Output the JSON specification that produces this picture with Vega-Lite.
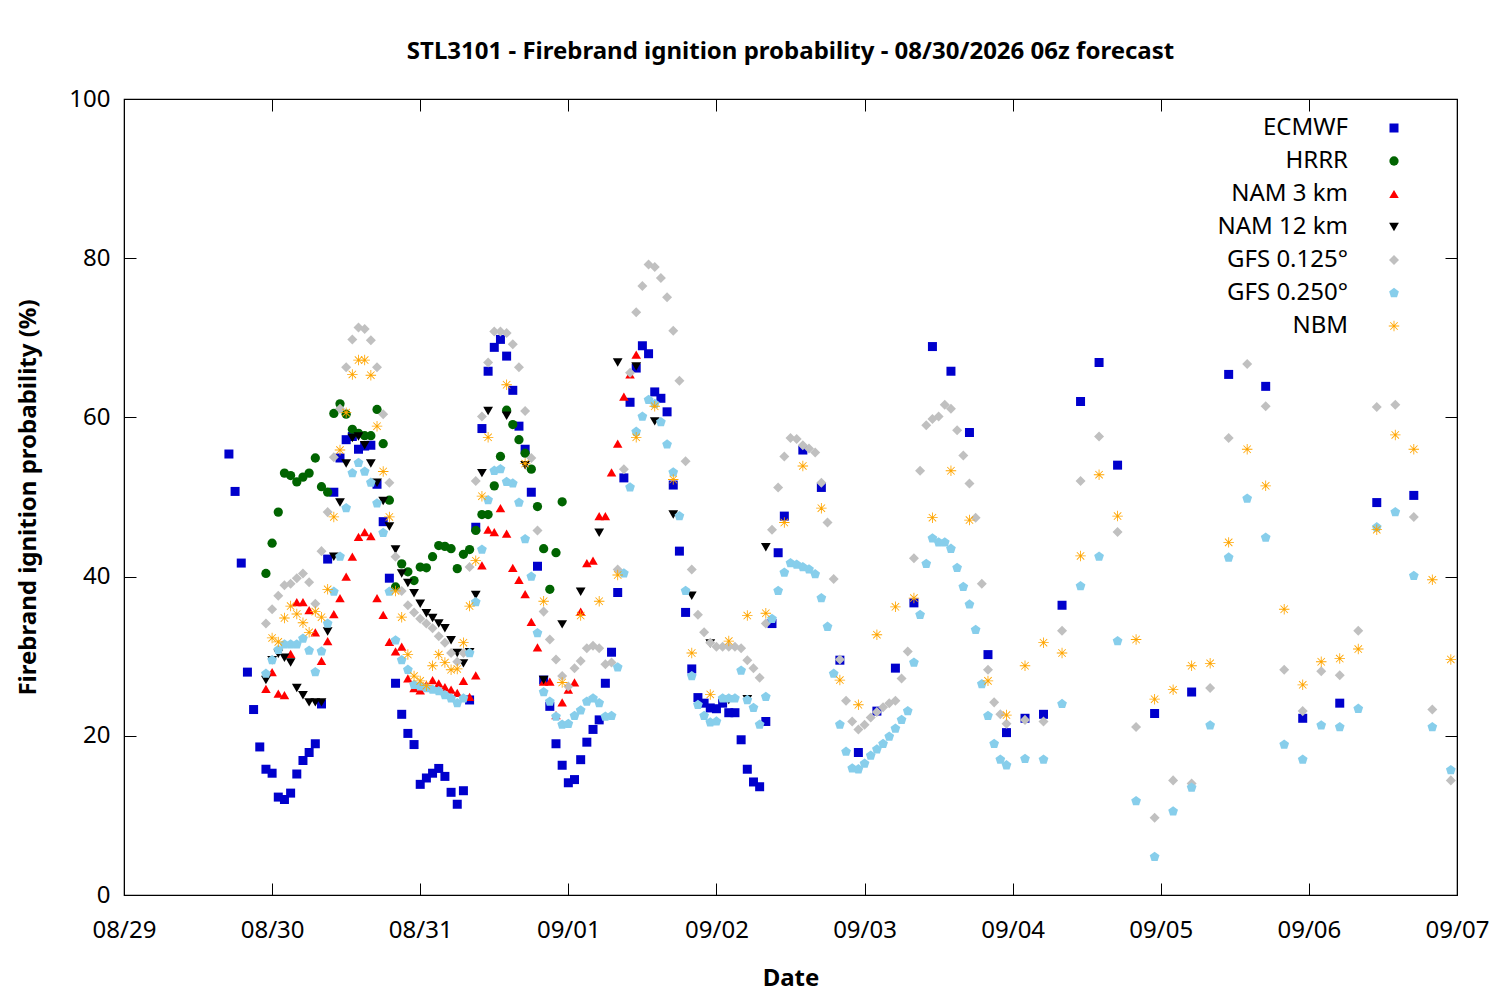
{
  "$schema": "https://vega.github.io/schema/vega-lite/v6.json",
  "width": 1333,
  "height": 796,
  "autosize": {"type": "none"},
  "padding": {"left": 124, "top": 99, "right": 43, "bottom": 105},
  "background": "white",
  "config": {
    "font": "Noto Sans",
    "view": {"stroke": "black", "strokeWidth": 1.2}
  },
  "title": {
    "text": "STL3101 - Firebrand ignition probability - 08/30/2026 06z forecast",
    "fontSize": 24,
    "fontWeight": "bold",
    "color": "black",
    "anchor": "middle",
    "offset": 23
  },
  "data": {
    "values": [
      {"model": "ECMWF", "hour": 17, "prob": 55.4}, {"model": "ECMWF", "hour": 18, "prob": 50.7}, {"model": "ECMWF", "hour": 19, "prob": 41.7},
      {"model": "ECMWF", "hour": 20, "prob": 28.0}, {"model": "ECMWF", "hour": 21, "prob": 23.3}, {"model": "ECMWF", "hour": 22, "prob": 18.6},
      {"model": "ECMWF", "hour": 23, "prob": 15.8}, {"model": "ECMWF", "hour": 24, "prob": 15.3}, {"model": "ECMWF", "hour": 25, "prob": 12.3},
      {"model": "ECMWF", "hour": 26, "prob": 12.0}, {"model": "ECMWF", "hour": 27, "prob": 12.8}, {"model": "ECMWF", "hour": 28, "prob": 15.2},
      {"model": "ECMWF", "hour": 29, "prob": 16.9}, {"model": "ECMWF", "hour": 30, "prob": 17.9}, {"model": "ECMWF", "hour": 31, "prob": 19.0},
      {"model": "ECMWF", "hour": 32, "prob": 24.0}, {"model": "ECMWF", "hour": 33, "prob": 42.2}, {"model": "ECMWF", "hour": 34, "prob": 50.6},
      {"model": "ECMWF", "hour": 35, "prob": 54.9}, {"model": "ECMWF", "hour": 36, "prob": 57.2}, {"model": "ECMWF", "hour": 37, "prob": 57.6},
      {"model": "ECMWF", "hour": 38, "prob": 56.0}, {"model": "ECMWF", "hour": 39, "prob": 56.4}, {"model": "ECMWF", "hour": 40, "prob": 56.5},
      {"model": "ECMWF", "hour": 41, "prob": 51.6}, {"model": "ECMWF", "hour": 42, "prob": 46.9}, {"model": "ECMWF", "hour": 43, "prob": 39.8},
      {"model": "ECMWF", "hour": 44, "prob": 26.6}, {"model": "ECMWF", "hour": 45, "prob": 22.7}, {"model": "ECMWF", "hour": 46, "prob": 20.3},
      {"model": "ECMWF", "hour": 47, "prob": 18.9}, {"model": "ECMWF", "hour": 48, "prob": 13.9}, {"model": "ECMWF", "hour": 49, "prob": 14.7},
      {"model": "ECMWF", "hour": 50, "prob": 15.3}, {"model": "ECMWF", "hour": 51, "prob": 15.9}, {"model": "ECMWF", "hour": 52, "prob": 14.9},
      {"model": "ECMWF", "hour": 53, "prob": 12.9}, {"model": "ECMWF", "hour": 54, "prob": 11.4}, {"model": "ECMWF", "hour": 55, "prob": 13.1},
      {"model": "ECMWF", "hour": 56, "prob": 24.5}, {"model": "ECMWF", "hour": 57, "prob": 46.2}, {"model": "ECMWF", "hour": 58, "prob": 58.6},
      {"model": "ECMWF", "hour": 59, "prob": 65.8}, {"model": "ECMWF", "hour": 60, "prob": 68.8}, {"model": "ECMWF", "hour": 61, "prob": 69.8},
      {"model": "ECMWF", "hour": 62, "prob": 67.7}, {"model": "ECMWF", "hour": 63, "prob": 63.4}, {"model": "ECMWF", "hour": 64, "prob": 58.9},
      {"model": "ECMWF", "hour": 65, "prob": 56.0}, {"model": "ECMWF", "hour": 66, "prob": 50.6}, {"model": "ECMWF", "hour": 67, "prob": 41.3},
      {"model": "ECMWF", "hour": 68, "prob": 27.0}, {"model": "ECMWF", "hour": 69, "prob": 23.7}, {"model": "ECMWF", "hour": 70, "prob": 19.0},
      {"model": "ECMWF", "hour": 71, "prob": 16.3}, {"model": "ECMWF", "hour": 72, "prob": 14.1}, {"model": "ECMWF", "hour": 73, "prob": 14.5},
      {"model": "ECMWF", "hour": 74, "prob": 17.0}, {"model": "ECMWF", "hour": 75, "prob": 19.2}, {"model": "ECMWF", "hour": 76, "prob": 20.8},
      {"model": "ECMWF", "hour": 77, "prob": 22.0}, {"model": "ECMWF", "hour": 78, "prob": 26.6}, {"model": "ECMWF", "hour": 79, "prob": 30.5},
      {"model": "ECMWF", "hour": 80, "prob": 38.0}, {"model": "ECMWF", "hour": 81, "prob": 52.4}, {"model": "ECMWF", "hour": 82, "prob": 61.9},
      {"model": "ECMWF", "hour": 83, "prob": 66.2}, {"model": "ECMWF", "hour": 84, "prob": 69.0}, {"model": "ECMWF", "hour": 85, "prob": 68.0},
      {"model": "ECMWF", "hour": 86, "prob": 63.2}, {"model": "ECMWF", "hour": 87, "prob": 62.4}, {"model": "ECMWF", "hour": 88, "prob": 60.7},
      {"model": "ECMWF", "hour": 89, "prob": 51.5}, {"model": "ECMWF", "hour": 90, "prob": 43.2}, {"model": "ECMWF", "hour": 91, "prob": 35.5},
      {"model": "ECMWF", "hour": 92, "prob": 28.4}, {"model": "ECMWF", "hour": 93, "prob": 24.8}, {"model": "ECMWF", "hour": 94, "prob": 24.1},
      {"model": "ECMWF", "hour": 95, "prob": 23.5}, {"model": "ECMWF", "hour": 96, "prob": 23.4}, {"model": "ECMWF", "hour": 97, "prob": 24.1},
      {"model": "ECMWF", "hour": 98, "prob": 22.9}, {"model": "ECMWF", "hour": 99, "prob": 22.9}, {"model": "ECMWF", "hour": 100, "prob": 19.5},
      {"model": "ECMWF", "hour": 101, "prob": 15.8}, {"model": "ECMWF", "hour": 102, "prob": 14.2}, {"model": "ECMWF", "hour": 103, "prob": 13.6},
      {"model": "ECMWF", "hour": 104, "prob": 21.8}, {"model": "ECMWF", "hour": 105, "prob": 34.1}, {"model": "ECMWF", "hour": 106, "prob": 43.0},
      {"model": "ECMWF", "hour": 107, "prob": 47.6}, {"model": "ECMWF", "hour": 110, "prob": 55.9}, {"model": "ECMWF", "hour": 113, "prob": 51.2},
      {"model": "ECMWF", "hour": 116, "prob": 29.5}, {"model": "ECMWF", "hour": 119, "prob": 17.9}, {"model": "ECMWF", "hour": 122, "prob": 23.1},
      {"model": "ECMWF", "hour": 125, "prob": 28.5}, {"model": "ECMWF", "hour": 128, "prob": 36.7}, {"model": "ECMWF", "hour": 131, "prob": 68.9},
      {"model": "ECMWF", "hour": 134, "prob": 65.8}, {"model": "ECMWF", "hour": 137, "prob": 58.1}, {"model": "ECMWF", "hour": 140, "prob": 30.2},
      {"model": "ECMWF", "hour": 143, "prob": 20.4}, {"model": "ECMWF", "hour": 146, "prob": 22.2}, {"model": "ECMWF", "hour": 149, "prob": 22.7},
      {"model": "ECMWF", "hour": 152, "prob": 36.4}, {"model": "ECMWF", "hour": 155, "prob": 62.0}, {"model": "ECMWF", "hour": 158, "prob": 66.9},
      {"model": "ECMWF", "hour": 161, "prob": 54.0}, {"model": "ECMWF", "hour": 167, "prob": 22.8}, {"model": "ECMWF", "hour": 173, "prob": 25.5},
      {"model": "ECMWF", "hour": 179, "prob": 65.4}, {"model": "ECMWF", "hour": 185, "prob": 63.9}, {"model": "ECMWF", "hour": 191, "prob": 22.2},
      {"model": "ECMWF", "hour": 197, "prob": 24.1}, {"model": "ECMWF", "hour": 203, "prob": 49.3}, {"model": "ECMWF", "hour": 209, "prob": 50.2},

      {"model": "HRRR", "hour": 23, "prob": 40.4}, {"model": "HRRR", "hour": 24, "prob": 44.2}, {"model": "HRRR", "hour": 25, "prob": 48.1},
      {"model": "HRRR", "hour": 26, "prob": 53.0}, {"model": "HRRR", "hour": 27, "prob": 52.7}, {"model": "HRRR", "hour": 28, "prob": 51.9},
      {"model": "HRRR", "hour": 29, "prob": 52.5}, {"model": "HRRR", "hour": 30, "prob": 53.0}, {"model": "HRRR", "hour": 31, "prob": 54.9},
      {"model": "HRRR", "hour": 32, "prob": 51.3}, {"model": "HRRR", "hour": 33, "prob": 50.6}, {"model": "HRRR", "hour": 34, "prob": 60.5},
      {"model": "HRRR", "hour": 35, "prob": 61.7}, {"model": "HRRR", "hour": 36, "prob": 60.4}, {"model": "HRRR", "hour": 37, "prob": 58.5},
      {"model": "HRRR", "hour": 38, "prob": 58.0}, {"model": "HRRR", "hour": 39, "prob": 57.7}, {"model": "HRRR", "hour": 40, "prob": 57.7},
      {"model": "HRRR", "hour": 41, "prob": 61.0}, {"model": "HRRR", "hour": 42, "prob": 56.7}, {"model": "HRRR", "hour": 43, "prob": 49.6},
      {"model": "HRRR", "hour": 44, "prob": 38.7}, {"model": "HRRR", "hour": 45, "prob": 41.6}, {"model": "HRRR", "hour": 46, "prob": 40.6},
      {"model": "HRRR", "hour": 47, "prob": 39.5}, {"model": "HRRR", "hour": 48, "prob": 41.2}, {"model": "HRRR", "hour": 49, "prob": 41.1},
      {"model": "HRRR", "hour": 50, "prob": 42.5}, {"model": "HRRR", "hour": 51, "prob": 43.9}, {"model": "HRRR", "hour": 52, "prob": 43.8},
      {"model": "HRRR", "hour": 53, "prob": 43.5}, {"model": "HRRR", "hour": 54, "prob": 41.0}, {"model": "HRRR", "hour": 55, "prob": 42.8},
      {"model": "HRRR", "hour": 56, "prob": 43.4}, {"model": "HRRR", "hour": 57, "prob": 45.8}, {"model": "HRRR", "hour": 58, "prob": 47.8},
      {"model": "HRRR", "hour": 59, "prob": 47.8}, {"model": "HRRR", "hour": 60, "prob": 51.4}, {"model": "HRRR", "hour": 61, "prob": 55.1},
      {"model": "HRRR", "hour": 62, "prob": 60.9}, {"model": "HRRR", "hour": 63, "prob": 59.1}, {"model": "HRRR", "hour": 64, "prob": 57.2},
      {"model": "HRRR", "hour": 65, "prob": 55.5}, {"model": "HRRR", "hour": 66, "prob": 53.5}, {"model": "HRRR", "hour": 67, "prob": 48.8},
      {"model": "HRRR", "hour": 68, "prob": 43.5}, {"model": "HRRR", "hour": 69, "prob": 38.4}, {"model": "HRRR", "hour": 70, "prob": 43.0},
      {"model": "HRRR", "hour": 71, "prob": 49.4},

      {"model": "NAM 3 km", "hour": 23, "prob": 25.9}, {"model": "NAM 3 km", "hour": 24, "prob": 28.0}, {"model": "NAM 3 km", "hour": 25, "prob": 25.3},
      {"model": "NAM 3 km", "hour": 26, "prob": 25.1}, {"model": "NAM 3 km", "hour": 27, "prob": 30.3}, {"model": "NAM 3 km", "hour": 28, "prob": 36.8},
      {"model": "NAM 3 km", "hour": 29, "prob": 36.8}, {"model": "NAM 3 km", "hour": 30, "prob": 35.8}, {"model": "NAM 3 km", "hour": 31, "prob": 33.0},
      {"model": "NAM 3 km", "hour": 32, "prob": 29.4}, {"model": "NAM 3 km", "hour": 33, "prob": 31.9}, {"model": "NAM 3 km", "hour": 34, "prob": 35.3},
      {"model": "NAM 3 km", "hour": 35, "prob": 37.3}, {"model": "NAM 3 km", "hour": 36, "prob": 40.0}, {"model": "NAM 3 km", "hour": 37, "prob": 42.5},
      {"model": "NAM 3 km", "hour": 38, "prob": 45.0}, {"model": "NAM 3 km", "hour": 39, "prob": 45.6}, {"model": "NAM 3 km", "hour": 40, "prob": 45.1},
      {"model": "NAM 3 km", "hour": 41, "prob": 37.3}, {"model": "NAM 3 km", "hour": 42, "prob": 35.2}, {"model": "NAM 3 km", "hour": 43, "prob": 31.8},
      {"model": "NAM 3 km", "hour": 44, "prob": 30.6}, {"model": "NAM 3 km", "hour": 45, "prob": 31.2}, {"model": "NAM 3 km", "hour": 46, "prob": 27.2},
      {"model": "NAM 3 km", "hour": 47, "prob": 26.0}, {"model": "NAM 3 km", "hour": 48, "prob": 25.7}, {"model": "NAM 3 km", "hour": 49, "prob": 26.4},
      {"model": "NAM 3 km", "hour": 50, "prob": 27.0}, {"model": "NAM 3 km", "hour": 51, "prob": 26.6}, {"model": "NAM 3 km", "hour": 52, "prob": 26.1},
      {"model": "NAM 3 km", "hour": 53, "prob": 25.8}, {"model": "NAM 3 km", "hour": 54, "prob": 25.4}, {"model": "NAM 3 km", "hour": 55, "prob": 26.9},
      {"model": "NAM 3 km", "hour": 56, "prob": 24.9}, {"model": "NAM 3 km", "hour": 57, "prob": 27.6}, {"model": "NAM 3 km", "hour": 58, "prob": 41.4},
      {"model": "NAM 3 km", "hour": 59, "prob": 45.9}, {"model": "NAM 3 km", "hour": 60, "prob": 45.6}, {"model": "NAM 3 km", "hour": 61, "prob": 48.6},
      {"model": "NAM 3 km", "hour": 62, "prob": 45.4}, {"model": "NAM 3 km", "hour": 63, "prob": 41.1}, {"model": "NAM 3 km", "hour": 64, "prob": 39.6},
      {"model": "NAM 3 km", "hour": 65, "prob": 37.8}, {"model": "NAM 3 km", "hour": 66, "prob": 34.3}, {"model": "NAM 3 km", "hour": 67, "prob": 31.1},
      {"model": "NAM 3 km", "hour": 68, "prob": 26.8}, {"model": "NAM 3 km", "hour": 69, "prob": 26.8}, {"model": "NAM 3 km", "hour": 70, "prob": 22.6},
      {"model": "NAM 3 km", "hour": 71, "prob": 24.2}, {"model": "NAM 3 km", "hour": 72, "prob": 25.8}, {"model": "NAM 3 km", "hour": 73, "prob": 26.7},
      {"model": "NAM 3 km", "hour": 74, "prob": 35.6}, {"model": "NAM 3 km", "hour": 75, "prob": 41.7}, {"model": "NAM 3 km", "hour": 76, "prob": 42.0},
      {"model": "NAM 3 km", "hour": 77, "prob": 47.6}, {"model": "NAM 3 km", "hour": 78, "prob": 47.6}, {"model": "NAM 3 km", "hour": 79, "prob": 53.1},
      {"model": "NAM 3 km", "hour": 80, "prob": 56.7}, {"model": "NAM 3 km", "hour": 81, "prob": 62.6}, {"model": "NAM 3 km", "hour": 82, "prob": 65.4},
      {"model": "NAM 3 km", "hour": 83, "prob": 67.9},

      {"model": "NAM 12 km", "hour": 23, "prob": 27.0}, {"model": "NAM 12 km", "hour": 24, "prob": 29.5}, {"model": "NAM 12 km", "hour": 25, "prob": 30.3},
      {"model": "NAM 12 km", "hour": 26, "prob": 29.8}, {"model": "NAM 12 km", "hour": 27, "prob": 29.2}, {"model": "NAM 12 km", "hour": 28, "prob": 26.0},
      {"model": "NAM 12 km", "hour": 29, "prob": 25.1}, {"model": "NAM 12 km", "hour": 30, "prob": 24.2}, {"model": "NAM 12 km", "hour": 31, "prob": 24.2},
      {"model": "NAM 12 km", "hour": 32, "prob": 24.2}, {"model": "NAM 12 km", "hour": 33, "prob": 33.1}, {"model": "NAM 12 km", "hour": 34, "prob": 42.5},
      {"model": "NAM 12 km", "hour": 35, "prob": 49.3}, {"model": "NAM 12 km", "hour": 36, "prob": 54.2}, {"model": "NAM 12 km", "hour": 37, "prob": 57.4},
      {"model": "NAM 12 km", "hour": 38, "prob": 57.6}, {"model": "NAM 12 km", "hour": 39, "prob": 56.5}, {"model": "NAM 12 km", "hour": 40, "prob": 54.2},
      {"model": "NAM 12 km", "hour": 41, "prob": 51.8}, {"model": "NAM 12 km", "hour": 42, "prob": 49.5}, {"model": "NAM 12 km", "hour": 43, "prob": 46.3},
      {"model": "NAM 12 km", "hour": 44, "prob": 43.4}, {"model": "NAM 12 km", "hour": 45, "prob": 40.4}, {"model": "NAM 12 km", "hour": 46, "prob": 39.2},
      {"model": "NAM 12 km", "hour": 47, "prob": 37.9}, {"model": "NAM 12 km", "hour": 48, "prob": 36.6}, {"model": "NAM 12 km", "hour": 49, "prob": 35.4},
      {"model": "NAM 12 km", "hour": 50, "prob": 34.8}, {"model": "NAM 12 km", "hour": 51, "prob": 34.1}, {"model": "NAM 12 km", "hour": 52, "prob": 33.5},
      {"model": "NAM 12 km", "hour": 53, "prob": 32.0}, {"model": "NAM 12 km", "hour": 54, "prob": 30.4}, {"model": "NAM 12 km", "hour": 55, "prob": 29.1},
      {"model": "NAM 12 km", "hour": 56, "prob": 30.5}, {"model": "NAM 12 km", "hour": 57, "prob": 37.7}, {"model": "NAM 12 km", "hour": 58, "prob": 53.0},
      {"model": "NAM 12 km", "hour": 59, "prob": 60.8}, {"model": "NAM 12 km", "hour": 62, "prob": 60.2}, {"model": "NAM 12 km", "hour": 65, "prob": 54.0},
      {"model": "NAM 12 km", "hour": 68, "prob": 27.0}, {"model": "NAM 12 km", "hour": 71, "prob": 34.0}, {"model": "NAM 12 km", "hour": 74, "prob": 38.1},
      {"model": "NAM 12 km", "hour": 77, "prob": 45.5}, {"model": "NAM 12 km", "hour": 80, "prob": 66.9}, {"model": "NAM 12 km", "hour": 83, "prob": 66.4},
      {"model": "NAM 12 km", "hour": 86, "prob": 59.5}, {"model": "NAM 12 km", "hour": 89, "prob": 47.8}, {"model": "NAM 12 km", "hour": 92, "prob": 37.6},
      {"model": "NAM 12 km", "hour": 95, "prob": 31.6}, {"model": "NAM 12 km", "hour": 98, "prob": 24.5}, {"model": "NAM 12 km", "hour": 101, "prob": 24.6},
      {"model": "NAM 12 km", "hour": 104, "prob": 43.7},

      {"model": "GFS 0.125°", "hour": 23, "prob": 34.1}, {"model": "GFS 0.125°", "hour": 24, "prob": 35.9}, {"model": "GFS 0.125°", "hour": 25, "prob": 37.6},
      {"model": "GFS 0.125°", "hour": 26, "prob": 38.9}, {"model": "GFS 0.125°", "hour": 27, "prob": 39.1}, {"model": "GFS 0.125°", "hour": 28, "prob": 39.8},
      {"model": "GFS 0.125°", "hour": 29, "prob": 40.4}, {"model": "GFS 0.125°", "hour": 30, "prob": 39.3}, {"model": "GFS 0.125°", "hour": 31, "prob": 36.6},
      {"model": "GFS 0.125°", "hour": 32, "prob": 43.2}, {"model": "GFS 0.125°", "hour": 33, "prob": 48.1}, {"model": "GFS 0.125°", "hour": 34, "prob": 55.0},
      {"model": "GFS 0.125°", "hour": 35, "prob": 61.1}, {"model": "GFS 0.125°", "hour": 36, "prob": 66.3}, {"model": "GFS 0.125°", "hour": 37, "prob": 69.8},
      {"model": "GFS 0.125°", "hour": 38, "prob": 71.3}, {"model": "GFS 0.125°", "hour": 39, "prob": 71.1}, {"model": "GFS 0.125°", "hour": 40, "prob": 69.7},
      {"model": "GFS 0.125°", "hour": 41, "prob": 66.3}, {"model": "GFS 0.125°", "hour": 42, "prob": 60.4}, {"model": "GFS 0.125°", "hour": 43, "prob": 51.8},
      {"model": "GFS 0.125°", "hour": 44, "prob": 42.5}, {"model": "GFS 0.125°", "hour": 45, "prob": 38.2}, {"model": "GFS 0.125°", "hour": 46, "prob": 36.4},
      {"model": "GFS 0.125°", "hour": 47, "prob": 35.5}, {"model": "GFS 0.125°", "hour": 48, "prob": 34.7}, {"model": "GFS 0.125°", "hour": 49, "prob": 34.1},
      {"model": "GFS 0.125°", "hour": 50, "prob": 33.5}, {"model": "GFS 0.125°", "hour": 51, "prob": 32.5}, {"model": "GFS 0.125°", "hour": 52, "prob": 31.7},
      {"model": "GFS 0.125°", "hour": 53, "prob": 30.4}, {"model": "GFS 0.125°", "hour": 54, "prob": 29.3}, {"model": "GFS 0.125°", "hour": 55, "prob": 30.4},
      {"model": "GFS 0.125°", "hour": 56, "prob": 41.2}, {"model": "GFS 0.125°", "hour": 57, "prob": 52.0}, {"model": "GFS 0.125°", "hour": 58, "prob": 60.1},
      {"model": "GFS 0.125°", "hour": 59, "prob": 66.9}, {"model": "GFS 0.125°", "hour": 60, "prob": 70.8}, {"model": "GFS 0.125°", "hour": 61, "prob": 70.8},
      {"model": "GFS 0.125°", "hour": 62, "prob": 70.6}, {"model": "GFS 0.125°", "hour": 63, "prob": 69.2}, {"model": "GFS 0.125°", "hour": 64, "prob": 66.3},
      {"model": "GFS 0.125°", "hour": 65, "prob": 60.8}, {"model": "GFS 0.125°", "hour": 66, "prob": 54.9}, {"model": "GFS 0.125°", "hour": 67, "prob": 45.8},
      {"model": "GFS 0.125°", "hour": 68, "prob": 35.6}, {"model": "GFS 0.125°", "hour": 69, "prob": 32.1}, {"model": "GFS 0.125°", "hour": 70, "prob": 29.6},
      {"model": "GFS 0.125°", "hour": 71, "prob": 27.5}, {"model": "GFS 0.125°", "hour": 72, "prob": 26.2}, {"model": "GFS 0.125°", "hour": 73, "prob": 28.5},
      {"model": "GFS 0.125°", "hour": 74, "prob": 29.4}, {"model": "GFS 0.125°", "hour": 75, "prob": 31.0}, {"model": "GFS 0.125°", "hour": 76, "prob": 31.3},
      {"model": "GFS 0.125°", "hour": 77, "prob": 31.0}, {"model": "GFS 0.125°", "hour": 78, "prob": 29.0}, {"model": "GFS 0.125°", "hour": 79, "prob": 29.2},
      {"model": "GFS 0.125°", "hour": 80, "prob": 40.9}, {"model": "GFS 0.125°", "hour": 81, "prob": 53.5}, {"model": "GFS 0.125°", "hour": 82, "prob": 65.6},
      {"model": "GFS 0.125°", "hour": 83, "prob": 73.2}, {"model": "GFS 0.125°", "hour": 84, "prob": 76.5}, {"model": "GFS 0.125°", "hour": 85, "prob": 79.2},
      {"model": "GFS 0.125°", "hour": 86, "prob": 78.9}, {"model": "GFS 0.125°", "hour": 87, "prob": 77.5}, {"model": "GFS 0.125°", "hour": 88, "prob": 75.1},
      {"model": "GFS 0.125°", "hour": 89, "prob": 70.9}, {"model": "GFS 0.125°", "hour": 90, "prob": 64.6}, {"model": "GFS 0.125°", "hour": 91, "prob": 54.5},
      {"model": "GFS 0.125°", "hour": 92, "prob": 40.9}, {"model": "GFS 0.125°", "hour": 93, "prob": 35.2}, {"model": "GFS 0.125°", "hour": 94, "prob": 33.0},
      {"model": "GFS 0.125°", "hour": 95, "prob": 31.7}, {"model": "GFS 0.125°", "hour": 96, "prob": 31.2}, {"model": "GFS 0.125°", "hour": 97, "prob": 31.2},
      {"model": "GFS 0.125°", "hour": 98, "prob": 31.2}, {"model": "GFS 0.125°", "hour": 99, "prob": 31.2}, {"model": "GFS 0.125°", "hour": 100, "prob": 31.0},
      {"model": "GFS 0.125°", "hour": 101, "prob": 29.5}, {"model": "GFS 0.125°", "hour": 102, "prob": 28.5}, {"model": "GFS 0.125°", "hour": 103, "prob": 27.3},
      {"model": "GFS 0.125°", "hour": 104, "prob": 34.1}, {"model": "GFS 0.125°", "hour": 105, "prob": 45.9}, {"model": "GFS 0.125°", "hour": 106, "prob": 51.2},
      {"model": "GFS 0.125°", "hour": 107, "prob": 55.1}, {"model": "GFS 0.125°", "hour": 108, "prob": 57.4}, {"model": "GFS 0.125°", "hour": 109, "prob": 57.3},
      {"model": "GFS 0.125°", "hour": 110, "prob": 56.5}, {"model": "GFS 0.125°", "hour": 111, "prob": 56.1}, {"model": "GFS 0.125°", "hour": 112, "prob": 55.6},
      {"model": "GFS 0.125°", "hour": 113, "prob": 51.8}, {"model": "GFS 0.125°", "hour": 114, "prob": 46.8}, {"model": "GFS 0.125°", "hour": 115, "prob": 39.7},
      {"model": "GFS 0.125°", "hour": 116, "prob": 29.6}, {"model": "GFS 0.125°", "hour": 117, "prob": 24.4}, {"model": "GFS 0.125°", "hour": 118, "prob": 21.8},
      {"model": "GFS 0.125°", "hour": 119, "prob": 20.8}, {"model": "GFS 0.125°", "hour": 120, "prob": 21.4}, {"model": "GFS 0.125°", "hour": 121, "prob": 22.3},
      {"model": "GFS 0.125°", "hour": 122, "prob": 23.0}, {"model": "GFS 0.125°", "hour": 123, "prob": 23.6}, {"model": "GFS 0.125°", "hour": 124, "prob": 24.1},
      {"model": "GFS 0.125°", "hour": 125, "prob": 24.4}, {"model": "GFS 0.125°", "hour": 126, "prob": 27.2}, {"model": "GFS 0.125°", "hour": 127, "prob": 30.6},
      {"model": "GFS 0.125°", "hour": 128, "prob": 42.3}, {"model": "GFS 0.125°", "hour": 129, "prob": 53.3}, {"model": "GFS 0.125°", "hour": 130, "prob": 59.0},
      {"model": "GFS 0.125°", "hour": 131, "prob": 59.8}, {"model": "GFS 0.125°", "hour": 132, "prob": 60.1}, {"model": "GFS 0.125°", "hour": 133, "prob": 61.6},
      {"model": "GFS 0.125°", "hour": 134, "prob": 61.1}, {"model": "GFS 0.125°", "hour": 135, "prob": 58.4}, {"model": "GFS 0.125°", "hour": 136, "prob": 55.2},
      {"model": "GFS 0.125°", "hour": 137, "prob": 51.7}, {"model": "GFS 0.125°", "hour": 138, "prob": 47.4}, {"model": "GFS 0.125°", "hour": 139, "prob": 39.1},
      {"model": "GFS 0.125°", "hour": 140, "prob": 28.3}, {"model": "GFS 0.125°", "hour": 141, "prob": 24.2}, {"model": "GFS 0.125°", "hour": 142, "prob": 22.7},
      {"model": "GFS 0.125°", "hour": 143, "prob": 21.5}, {"model": "GFS 0.125°", "hour": 146, "prob": 22.0}, {"model": "GFS 0.125°", "hour": 149, "prob": 21.8},
      {"model": "GFS 0.125°", "hour": 152, "prob": 33.2}, {"model": "GFS 0.125°", "hour": 155, "prob": 52.0}, {"model": "GFS 0.125°", "hour": 158, "prob": 57.6},
      {"model": "GFS 0.125°", "hour": 161, "prob": 45.6}, {"model": "GFS 0.125°", "hour": 164, "prob": 21.1}, {"model": "GFS 0.125°", "hour": 167, "prob": 9.7},
      {"model": "GFS 0.125°", "hour": 170, "prob": 14.4}, {"model": "GFS 0.125°", "hour": 173, "prob": 14.0}, {"model": "GFS 0.125°", "hour": 176, "prob": 26.0},
      {"model": "GFS 0.125°", "hour": 179, "prob": 57.4}, {"model": "GFS 0.125°", "hour": 182, "prob": 66.7}, {"model": "GFS 0.125°", "hour": 185, "prob": 61.4},
      {"model": "GFS 0.125°", "hour": 188, "prob": 28.3}, {"model": "GFS 0.125°", "hour": 191, "prob": 23.1}, {"model": "GFS 0.125°", "hour": 194, "prob": 28.1},
      {"model": "GFS 0.125°", "hour": 197, "prob": 27.6}, {"model": "GFS 0.125°", "hour": 200, "prob": 33.2}, {"model": "GFS 0.125°", "hour": 203, "prob": 61.3},
      {"model": "GFS 0.125°", "hour": 206, "prob": 61.6}, {"model": "GFS 0.125°", "hour": 209, "prob": 47.5}, {"model": "GFS 0.125°", "hour": 212, "prob": 23.3},
      {"model": "GFS 0.125°", "hour": 215, "prob": 14.4},

      {"model": "GFS 0.250°", "hour": 23, "prob": 27.8}, {"model": "GFS 0.250°", "hour": 24, "prob": 29.5}, {"model": "GFS 0.250°", "hour": 25, "prob": 30.8},
      {"model": "GFS 0.250°", "hour": 26, "prob": 31.5}, {"model": "GFS 0.250°", "hour": 27, "prob": 31.5}, {"model": "GFS 0.250°", "hour": 28, "prob": 31.5},
      {"model": "GFS 0.250°", "hour": 29, "prob": 32.2}, {"model": "GFS 0.250°", "hour": 30, "prob": 30.7}, {"model": "GFS 0.250°", "hour": 31, "prob": 28.0},
      {"model": "GFS 0.250°", "hour": 32, "prob": 30.6}, {"model": "GFS 0.250°", "hour": 33, "prob": 34.1}, {"model": "GFS 0.250°", "hour": 34, "prob": 38.1},
      {"model": "GFS 0.250°", "hour": 35, "prob": 42.5}, {"model": "GFS 0.250°", "hour": 36, "prob": 48.6}, {"model": "GFS 0.250°", "hour": 37, "prob": 53.0},
      {"model": "GFS 0.250°", "hour": 38, "prob": 54.3}, {"model": "GFS 0.250°", "hour": 39, "prob": 53.2}, {"model": "GFS 0.250°", "hour": 40, "prob": 51.8},
      {"model": "GFS 0.250°", "hour": 41, "prob": 49.2}, {"model": "GFS 0.250°", "hour": 42, "prob": 45.5}, {"model": "GFS 0.250°", "hour": 43, "prob": 38.1},
      {"model": "GFS 0.250°", "hour": 44, "prob": 32.0}, {"model": "GFS 0.250°", "hour": 45, "prob": 29.5}, {"model": "GFS 0.250°", "hour": 46, "prob": 28.3},
      {"model": "GFS 0.250°", "hour": 47, "prob": 26.4}, {"model": "GFS 0.250°", "hour": 48, "prob": 26.2}, {"model": "GFS 0.250°", "hour": 49, "prob": 26.0},
      {"model": "GFS 0.250°", "hour": 50, "prob": 25.8}, {"model": "GFS 0.250°", "hour": 51, "prob": 25.6}, {"model": "GFS 0.250°", "hour": 52, "prob": 25.1},
      {"model": "GFS 0.250°", "hour": 53, "prob": 24.7}, {"model": "GFS 0.250°", "hour": 54, "prob": 24.1}, {"model": "GFS 0.250°", "hour": 55, "prob": 24.7},
      {"model": "GFS 0.250°", "hour": 56, "prob": 30.4}, {"model": "GFS 0.250°", "hour": 57, "prob": 36.8}, {"model": "GFS 0.250°", "hour": 58, "prob": 43.4},
      {"model": "GFS 0.250°", "hour": 59, "prob": 49.6}, {"model": "GFS 0.250°", "hour": 60, "prob": 53.3}, {"model": "GFS 0.250°", "hour": 61, "prob": 53.5},
      {"model": "GFS 0.250°", "hour": 62, "prob": 51.9}, {"model": "GFS 0.250°", "hour": 63, "prob": 51.7}, {"model": "GFS 0.250°", "hour": 64, "prob": 49.3},
      {"model": "GFS 0.250°", "hour": 65, "prob": 44.7}, {"model": "GFS 0.250°", "hour": 66, "prob": 40.0}, {"model": "GFS 0.250°", "hour": 67, "prob": 32.9},
      {"model": "GFS 0.250°", "hour": 68, "prob": 25.5}, {"model": "GFS 0.250°", "hour": 69, "prob": 24.3}, {"model": "GFS 0.250°", "hour": 70, "prob": 22.4},
      {"model": "GFS 0.250°", "hour": 71, "prob": 21.4}, {"model": "GFS 0.250°", "hour": 72, "prob": 21.5}, {"model": "GFS 0.250°", "hour": 73, "prob": 22.5},
      {"model": "GFS 0.250°", "hour": 74, "prob": 23.2}, {"model": "GFS 0.250°", "hour": 75, "prob": 24.3}, {"model": "GFS 0.250°", "hour": 76, "prob": 24.7},
      {"model": "GFS 0.250°", "hour": 77, "prob": 24.1}, {"model": "GFS 0.250°", "hour": 78, "prob": 22.4}, {"model": "GFS 0.250°", "hour": 79, "prob": 22.5},
      {"model": "GFS 0.250°", "hour": 80, "prob": 28.6}, {"model": "GFS 0.250°", "hour": 81, "prob": 40.4}, {"model": "GFS 0.250°", "hour": 82, "prob": 51.2},
      {"model": "GFS 0.250°", "hour": 83, "prob": 58.2}, {"model": "GFS 0.250°", "hour": 84, "prob": 60.1}, {"model": "GFS 0.250°", "hour": 85, "prob": 62.2},
      {"model": "GFS 0.250°", "hour": 86, "prob": 61.7}, {"model": "GFS 0.250°", "hour": 87, "prob": 59.4}, {"model": "GFS 0.250°", "hour": 88, "prob": 56.6},
      {"model": "GFS 0.250°", "hour": 89, "prob": 53.1}, {"model": "GFS 0.250°", "hour": 90, "prob": 47.6}, {"model": "GFS 0.250°", "hour": 91, "prob": 38.2},
      {"model": "GFS 0.250°", "hour": 92, "prob": 27.5}, {"model": "GFS 0.250°", "hour": 93, "prob": 23.9}, {"model": "GFS 0.250°", "hour": 94, "prob": 22.5},
      {"model": "GFS 0.250°", "hour": 95, "prob": 21.7}, {"model": "GFS 0.250°", "hour": 96, "prob": 21.8}, {"model": "GFS 0.250°", "hour": 97, "prob": 24.7},
      {"model": "GFS 0.250°", "hour": 98, "prob": 24.7}, {"model": "GFS 0.250°", "hour": 99, "prob": 24.7}, {"model": "GFS 0.250°", "hour": 100, "prob": 28.2},
      {"model": "GFS 0.250°", "hour": 101, "prob": 24.5}, {"model": "GFS 0.250°", "hour": 102, "prob": 23.5}, {"model": "GFS 0.250°", "hour": 103, "prob": 21.4},
      {"model": "GFS 0.250°", "hour": 104, "prob": 24.9}, {"model": "GFS 0.250°", "hour": 105, "prob": 34.7}, {"model": "GFS 0.250°", "hour": 106, "prob": 38.2},
      {"model": "GFS 0.250°", "hour": 107, "prob": 40.5}, {"model": "GFS 0.250°", "hour": 108, "prob": 41.7}, {"model": "GFS 0.250°", "hour": 109, "prob": 41.5},
      {"model": "GFS 0.250°", "hour": 110, "prob": 41.2}, {"model": "GFS 0.250°", "hour": 111, "prob": 40.9}, {"model": "GFS 0.250°", "hour": 112, "prob": 40.3},
      {"model": "GFS 0.250°", "hour": 113, "prob": 37.3}, {"model": "GFS 0.250°", "hour": 114, "prob": 33.7}, {"model": "GFS 0.250°", "hour": 115, "prob": 27.8},
      {"model": "GFS 0.250°", "hour": 116, "prob": 21.4}, {"model": "GFS 0.250°", "hour": 117, "prob": 18.0}, {"model": "GFS 0.250°", "hour": 118, "prob": 15.9},
      {"model": "GFS 0.250°", "hour": 119, "prob": 15.8}, {"model": "GFS 0.250°", "hour": 120, "prob": 16.5}, {"model": "GFS 0.250°", "hour": 121, "prob": 17.5},
      {"model": "GFS 0.250°", "hour": 122, "prob": 18.3}, {"model": "GFS 0.250°", "hour": 123, "prob": 19.0}, {"model": "GFS 0.250°", "hour": 124, "prob": 19.9},
      {"model": "GFS 0.250°", "hour": 125, "prob": 20.9}, {"model": "GFS 0.250°", "hour": 126, "prob": 22.0}, {"model": "GFS 0.250°", "hour": 127, "prob": 23.1},
      {"model": "GFS 0.250°", "hour": 128, "prob": 29.2}, {"model": "GFS 0.250°", "hour": 129, "prob": 35.2}, {"model": "GFS 0.250°", "hour": 130, "prob": 41.6},
      {"model": "GFS 0.250°", "hour": 131, "prob": 44.8}, {"model": "GFS 0.250°", "hour": 132, "prob": 44.3}, {"model": "GFS 0.250°", "hour": 133, "prob": 44.3},
      {"model": "GFS 0.250°", "hour": 134, "prob": 43.5}, {"model": "GFS 0.250°", "hour": 135, "prob": 41.1}, {"model": "GFS 0.250°", "hour": 136, "prob": 38.7},
      {"model": "GFS 0.250°", "hour": 137, "prob": 36.5}, {"model": "GFS 0.250°", "hour": 138, "prob": 33.3}, {"model": "GFS 0.250°", "hour": 139, "prob": 26.5},
      {"model": "GFS 0.250°", "hour": 140, "prob": 22.5}, {"model": "GFS 0.250°", "hour": 141, "prob": 19.0}, {"model": "GFS 0.250°", "hour": 142, "prob": 17.0},
      {"model": "GFS 0.250°", "hour": 143, "prob": 16.3}, {"model": "GFS 0.250°", "hour": 146, "prob": 17.1}, {"model": "GFS 0.250°", "hour": 149, "prob": 17.0},
      {"model": "GFS 0.250°", "hour": 152, "prob": 24.0}, {"model": "GFS 0.250°", "hour": 155, "prob": 38.8}, {"model": "GFS 0.250°", "hour": 158, "prob": 42.5},
      {"model": "GFS 0.250°", "hour": 161, "prob": 31.9}, {"model": "GFS 0.250°", "hour": 164, "prob": 11.8}, {"model": "GFS 0.250°", "hour": 167, "prob": 4.8},
      {"model": "GFS 0.250°", "hour": 170, "prob": 10.5}, {"model": "GFS 0.250°", "hour": 173, "prob": 13.5}, {"model": "GFS 0.250°", "hour": 176, "prob": 21.3},
      {"model": "GFS 0.250°", "hour": 179, "prob": 42.4}, {"model": "GFS 0.250°", "hour": 182, "prob": 49.8}, {"model": "GFS 0.250°", "hour": 185, "prob": 44.9},
      {"model": "GFS 0.250°", "hour": 188, "prob": 18.9}, {"model": "GFS 0.250°", "hour": 191, "prob": 17.0}, {"model": "GFS 0.250°", "hour": 194, "prob": 21.3},
      {"model": "GFS 0.250°", "hour": 197, "prob": 21.1}, {"model": "GFS 0.250°", "hour": 200, "prob": 23.4}, {"model": "GFS 0.250°", "hour": 203, "prob": 46.2},
      {"model": "GFS 0.250°", "hour": 206, "prob": 48.1}, {"model": "GFS 0.250°", "hour": 209, "prob": 40.1}, {"model": "GFS 0.250°", "hour": 212, "prob": 21.1},
      {"model": "GFS 0.250°", "hour": 215, "prob": 15.7},

      {"model": "NBM", "hour": 24, "prob": 32.3}, {"model": "NBM", "hour": 25, "prob": 31.8}, {"model": "NBM", "hour": 26, "prob": 34.8},
      {"model": "NBM", "hour": 27, "prob": 36.3}, {"model": "NBM", "hour": 28, "prob": 35.3}, {"model": "NBM", "hour": 29, "prob": 34.2},
      {"model": "NBM", "hour": 30, "prob": 33.0}, {"model": "NBM", "hour": 31, "prob": 35.6}, {"model": "NBM", "hour": 32, "prob": 34.9},
      {"model": "NBM", "hour": 33, "prob": 38.4}, {"model": "NBM", "hour": 34, "prob": 47.5}, {"model": "NBM", "hour": 35, "prob": 55.9},
      {"model": "NBM", "hour": 36, "prob": 60.6}, {"model": "NBM", "hour": 37, "prob": 65.4}, {"model": "NBM", "hour": 38, "prob": 67.2},
      {"model": "NBM", "hour": 39, "prob": 67.2}, {"model": "NBM", "hour": 40, "prob": 65.3}, {"model": "NBM", "hour": 41, "prob": 58.9},
      {"model": "NBM", "hour": 42, "prob": 53.2}, {"model": "NBM", "hour": 43, "prob": 47.5}, {"model": "NBM", "hour": 44, "prob": 38.2},
      {"model": "NBM", "hour": 45, "prob": 34.9}, {"model": "NBM", "hour": 46, "prob": 30.2}, {"model": "NBM", "hour": 47, "prob": 27.5},
      {"model": "NBM", "hour": 48, "prob": 26.9}, {"model": "NBM", "hour": 49, "prob": 26.3}, {"model": "NBM", "hour": 50, "prob": 28.8},
      {"model": "NBM", "hour": 51, "prob": 30.2}, {"model": "NBM", "hour": 52, "prob": 29.2}, {"model": "NBM", "hour": 53, "prob": 28.3},
      {"model": "NBM", "hour": 54, "prob": 28.4}, {"model": "NBM", "hour": 55, "prob": 31.7}, {"model": "NBM", "hour": 56, "prob": 36.3},
      {"model": "NBM", "hour": 57, "prob": 42.0}, {"model": "NBM", "hour": 58, "prob": 50.1}, {"model": "NBM", "hour": 59, "prob": 57.5},
      {"model": "NBM", "hour": 62, "prob": 64.1}, {"model": "NBM", "hour": 65, "prob": 54.2}, {"model": "NBM", "hour": 68, "prob": 36.9},
      {"model": "NBM", "hour": 71, "prob": 26.7}, {"model": "NBM", "hour": 74, "prob": 35.1}, {"model": "NBM", "hour": 77, "prob": 36.9},
      {"model": "NBM", "hour": 80, "prob": 40.2}, {"model": "NBM", "hour": 83, "prob": 57.5}, {"model": "NBM", "hour": 86, "prob": 61.4},
      {"model": "NBM", "hour": 89, "prob": 52.2}, {"model": "NBM", "hour": 92, "prob": 30.4}, {"model": "NBM", "hour": 95, "prob": 25.2},
      {"model": "NBM", "hour": 98, "prob": 31.9}, {"model": "NBM", "hour": 101, "prob": 35.1}, {"model": "NBM", "hour": 104, "prob": 35.4},
      {"model": "NBM", "hour": 107, "prob": 46.8}, {"model": "NBM", "hour": 110, "prob": 53.9}, {"model": "NBM", "hour": 113, "prob": 48.6},
      {"model": "NBM", "hour": 116, "prob": 27.0}, {"model": "NBM", "hour": 119, "prob": 23.9}, {"model": "NBM", "hour": 122, "prob": 32.7},
      {"model": "NBM", "hour": 125, "prob": 36.2}, {"model": "NBM", "hour": 128, "prob": 37.3}, {"model": "NBM", "hour": 131, "prob": 47.4},
      {"model": "NBM", "hour": 134, "prob": 53.3}, {"model": "NBM", "hour": 137, "prob": 47.1}, {"model": "NBM", "hour": 140, "prob": 26.9},
      {"model": "NBM", "hour": 143, "prob": 22.6}, {"model": "NBM", "hour": 146, "prob": 28.8}, {"model": "NBM", "hour": 149, "prob": 31.7},
      {"model": "NBM", "hour": 152, "prob": 30.4}, {"model": "NBM", "hour": 155, "prob": 42.6}, {"model": "NBM", "hour": 158, "prob": 52.8},
      {"model": "NBM", "hour": 161, "prob": 47.6}, {"model": "NBM", "hour": 164, "prob": 32.1}, {"model": "NBM", "hour": 167, "prob": 24.6},
      {"model": "NBM", "hour": 170, "prob": 25.8}, {"model": "NBM", "hour": 173, "prob": 28.8}, {"model": "NBM", "hour": 176, "prob": 29.1},
      {"model": "NBM", "hour": 179, "prob": 44.3}, {"model": "NBM", "hour": 182, "prob": 56.0}, {"model": "NBM", "hour": 185, "prob": 51.4},
      {"model": "NBM", "hour": 188, "prob": 35.9}, {"model": "NBM", "hour": 191, "prob": 26.4}, {"model": "NBM", "hour": 194, "prob": 29.3},
      {"model": "NBM", "hour": 197, "prob": 29.7}, {"model": "NBM", "hour": 200, "prob": 30.9}, {"model": "NBM", "hour": 203, "prob": 45.9},
      {"model": "NBM", "hour": 206, "prob": 57.8}, {"model": "NBM", "hour": 209, "prob": 56.0}, {"model": "NBM", "hour": 212, "prob": 39.6},
      {"model": "NBM", "hour": 215, "prob": 29.6}
    ]
  },
  "layer": [
    {
      "mark": {"type": "point", "filled": true, "opacity": 1, "strokeWidth": 0},
      "encoding": {
        "x": {
          "field": "hour",
          "type": "quantitative",
          "scale": {"domain": [0, 216], "nice": false, "zero": false},
          "axis": {
            "orient": "bottom",
            "values": [0, 24, 48, 72, 96, 120, 144, 168, 192, 216],
            "labelExpr": "['08/29','08/30','08/31','09/01','09/02','09/03','09/04','09/05','09/06','09/07'][round(datum.value / 24)]",
            "labelOverlap": false,
            "labelFlush": false,
            "labelFontSize": 24,
            "labelColor": "black",
            "labelPadding": 35,
            "tickSize": -12,
            "tickColor": "black",
            "domainColor": "black",
            "grid": false,
            "title": "Date",
            "titleFontSize": 24,
            "titleFontWeight": "bold",
            "titleColor": "black",
            "titlePadding": 24
          }
        },
        "y": {
          "field": "prob",
          "type": "quantitative",
          "scale": {"domain": [0, 100], "nice": false},
          "axis": {
            "orient": "left",
            "values": [0, 20, 40, 60, 80, 100],
            "labelFontSize": 24,
            "labelColor": "black",
            "labelPadding": 26,
            "tickSize": -12,
            "tickColor": "black",
            "domainColor": "black",
            "grid": false,
            "title": "Firebrand ignition probability (%)",
            "titleFontSize": 24,
            "titleFontWeight": "bold",
            "titleColor": "black",
            "titlePadding": 28
          }
        },
        "color": {
          "field": "model",
          "type": "nominal",
          "scale": {
            "domain": ["ECMWF", "HRRR", "NAM 3 km", "NAM 12 km", "GFS 0.125°", "GFS 0.250°", "NBM"],
            "range": ["#0000cc", "#006400", "#ff0000", "#000000", "#c0c0c0", "#87ceeb", "#ffa500"]
          },
          "legend": {
            "title": null,
            "orient": "none",
            "legendX": 1258,
            "legendY": 17,
            "padding": 0,
            "labelFontSize": 24,
            "labelColor": "black",
            "labelAlign": "right",
            "labelOffset": -58,
            "labelLimit": 0,
            "symbolSize": 121,
            "symbolStrokeWidth": 0,
            "rowPadding": 9,
            "encode": {"symbols": {"update": {"size": {"scale": "size", "field": "value"}}}}
          }
        },
        "shape": {
          "field": "model",
          "type": "nominal",
          "scale": {
            "domain": ["ECMWF", "HRRR", "NAM 3 km", "NAM 12 km", "GFS 0.125°", "GFS 0.250°", "NBM"],
            "range": [
              "square",
              "circle",
              "triangle-up",
              "triangle-down",
              "diamond",
              "M0,-1L0.951,-0.309L0.588,0.809L-0.588,0.809L-0.951,-0.309Z",
              "M-1,-0.08H1V0.08H-1Z M-0.08,-1H0.08V1H-0.08Z M-0.65,-0.764L0.764,0.65L0.65,0.764L-0.764,-0.65Z M0.65,-0.764L0.764,-0.65L-0.65,0.764L-0.764,0.65Z"
            ]
          },
          "legend": {
            "title": null,
            "orient": "none",
            "legendX": 1258,
            "legendY": 17,
            "padding": 0,
            "labelFontSize": 24,
            "labelColor": "black",
            "labelAlign": "right",
            "labelOffset": -58,
            "labelLimit": 0,
            "symbolSize": 121,
            "symbolStrokeWidth": 0,
            "rowPadding": 9,
            "encode": {"symbols": {"update": {"size": {"scale": "size", "field": "value"}}}}
          }
        },
        "size": {
          "field": "model",
          "type": "nominal",
          "scale": {
            "domain": ["ECMWF", "HRRR", "NAM 3 km", "NAM 12 km", "GFS 0.125°", "GFS 0.250°", "NBM"],
            "range": [81, 110, 121, 121, 121, 121, 121]
          },
          "legend": null
        }
      }
    },
    {
      "mark": {"type": "point", "opacity": 0},
      "encoding": {
        "x": {
          "field": "hour",
          "type": "quantitative",
          "axis": {
            "orient": "top",
            "values": [0, 24, 48, 72, 96, 120, 144, 168, 192, 216],
            "labels": false,
            "title": null,
            "tickSize": -12,
            "tickColor": "black",
            "domainColor": "black",
            "grid": false
          }
        },
        "y": {
          "field": "prob",
          "type": "quantitative",
          "axis": {
            "orient": "right",
            "values": [0, 20, 40, 60, 80, 100],
            "labels": false,
            "title": null,
            "tickSize": -12,
            "tickColor": "black",
            "domainColor": "black",
            "grid": false
          }
        }
      }
    }
  ],
  "resolve": {"axis": {"x": "independent", "y": "independent"}}
}
